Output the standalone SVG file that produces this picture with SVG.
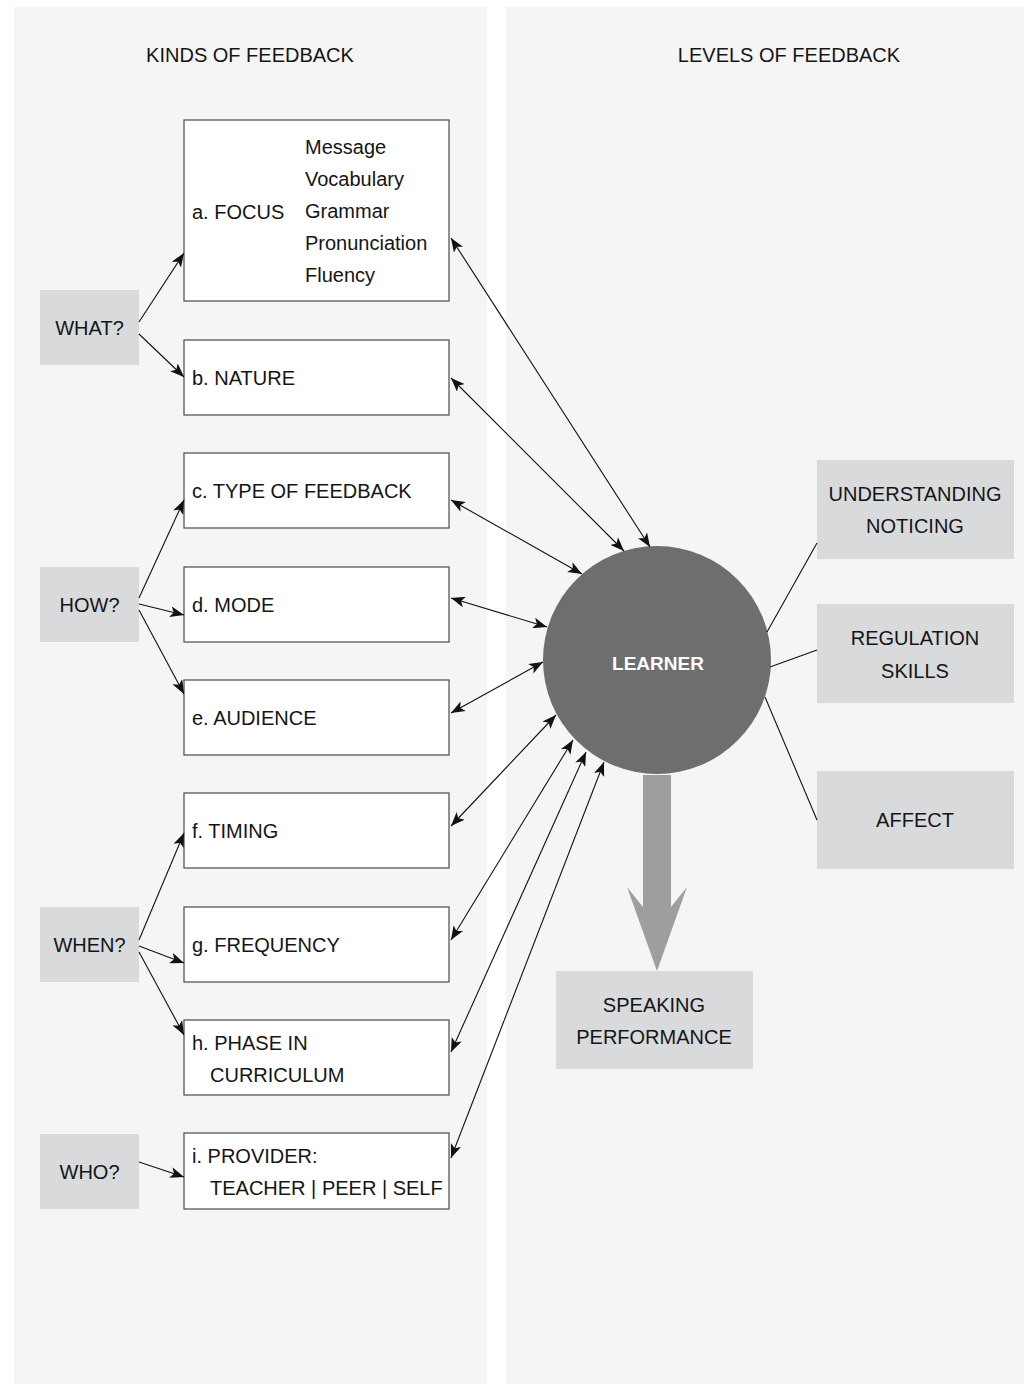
<svg xmlns="http://www.w3.org/2000/svg" width="1024" height="1384" viewBox="0 0 1024 1384">
<defs>
<style>
.panel{fill:#f5f5f5}
.box{fill:#ffffff;stroke:#4a4a4a;stroke-width:1.2}
.q{fill:#d9dadc}
.lvl{fill:#d9dadc}
text{font-family:"Liberation Sans",Arial,sans-serif;font-size:20px;fill:#151515}
.c{text-anchor:middle}
.ln{stroke:#111;stroke-width:1.1;fill:none}
.arr{stroke:#111;stroke-width:1.1;fill:none;marker-end:url(#ah)}
.bi{stroke:#111;stroke-width:1.1;fill:none;marker-end:url(#ah);marker-start:url(#ah)}
</style>
<marker id="ah" viewBox="0 0 14 11" refX="14" refY="5.5" markerWidth="14" markerHeight="11" markerUnits="userSpaceOnUse" orient="auto-start-reverse">
<path d="M0,0 L14,5.5 L0,11 L3.5,5.5 Z" fill="#111"/>
</marker>
</defs>
<rect width="1024" height="1384" fill="#ffffff"/>
<rect class="panel" x="14" y="7" width="473" height="1377"/>
<rect class="panel" x="506" y="7" width="518" height="1377"/>
<text class="c" x="250" y="62">KINDS OF FEEDBACK</text>
<text class="c" x="789" y="62">LEVELS OF FEEDBACK</text>

<g id="what"><rect class="q" x="40" y="290" width="99" height="75"/><text class="c" x="89.5" y="335">WHAT?</text></g>
<g id="how"><rect class="q" x="40" y="567" width="99" height="75"/><text class="c" x="89.5" y="612">HOW?</text></g>
<g id="when"><rect class="q" x="40" y="907" width="99" height="75"/><text class="c" x="89.5" y="952">WHEN?</text></g>
<g id="who"><rect class="q" x="40" y="1134" width="99" height="75"/><text class="c" x="89.5" y="1179">WHO?</text></g>

<g id="focus"><rect class="box" x="184" y="120" width="265" height="181"/>
<text x="192" y="219">a. FOCUS</text>
<text x="305" y="154">Message</text>
<text x="305" y="186">Vocabulary</text>
<text x="305" y="218">Grammar</text>
<text x="305" y="250">Pronunciation</text>
<text x="305" y="282">Fluency</text></g>
<g id="nature"><rect class="box" x="184" y="340" width="265" height="75"/><text x="192" y="385">b. NATURE</text></g>
<g id="type"><rect class="box" x="184" y="453" width="265" height="75"/><text x="192" y="498">c. TYPE OF FEEDBACK</text></g>
<g id="mode"><rect class="box" x="184" y="567" width="265" height="75"/><text x="192" y="612">d. MODE</text></g>
<g id="audience"><rect class="box" x="184" y="680" width="265" height="75"/><text x="192" y="725">e. AUDIENCE</text></g>
<g id="timing"><rect class="box" x="184" y="793" width="265" height="75"/><text x="192" y="838">f. TIMING</text></g>
<g id="frequency"><rect class="box" x="184" y="907" width="265" height="75"/><text x="192" y="952">g. FREQUENCY</text></g>
<g id="phase"><rect class="box" x="184" y="1020" width="265" height="75"/><text x="192" y="1050">h. PHASE IN</text><text x="210" y="1082">CURRICULUM</text></g>
<g id="provider"><rect class="box" x="184" y="1133" width="265" height="76"/><text x="192" y="1163">i. PROVIDER:</text><text x="210" y="1195">TEACHER | PEER | SELF</text></g>

<g id="learner"><circle cx="657" cy="660" r="114" fill="#6d6e70"/><text class="c" x="658" y="670" style="fill:#ffffff;font-weight:bold;font-size:19px">LEARNER</text></g>

<g id="understanding"><rect class="lvl" x="817" y="460" width="197" height="99"/><text class="c" x="915" y="501">UNDERSTANDING</text><text class="c" x="915" y="533">NOTICING</text></g>
<g id="regulation"><rect class="lvl" x="817" y="604" width="197" height="99"/><text class="c" x="915" y="645">REGULATION</text><text class="c" x="915" y="678">SKILLS</text></g>
<g id="affect"><rect class="lvl" x="817" y="771" width="197" height="98"/><text class="c" x="915" y="827">AFFECT</text></g>
<g id="speaking"><rect class="lvl" x="556" y="971" width="197" height="98"/><text class="c" x="654" y="1012">SPEAKING</text><text class="c" x="654" y="1044">PERFORMANCE</text></g>

<g id="connectors">
<path class="arr" d="M139,322 L184,253"/>
<path class="arr" d="M139,334 L184,377"/>
<path class="arr" d="M139,598 L184,500"/>
<path class="arr" d="M139,604 L184,615"/>
<path class="arr" d="M139,610 L184,694"/>
<path class="arr" d="M139,940 L184,833"/>
<path class="arr" d="M139,946 L184,963"/>
<path class="arr" d="M139,952 L184,1035"/>
<path class="arr" d="M139,1162 L184,1177"/>

<path class="bi" d="M451,238 L650,547"/>
<path class="bi" d="M451,378 L624,551"/>
<path class="bi" d="M451,500 L582,574"/>
<path class="bi" d="M451,598 L547,627"/>
<path class="bi" d="M451,713 L543,662"/>
<path class="bi" d="M451,826 L556,715"/>
<path class="bi" d="M451,940 L573,740"/>
<path class="bi" d="M451,1052 L586,752"/>
<path class="bi" d="M451,1158 L604,762"/>

<path class="ln" d="M767,632 L817,543"/>
<path class="ln" d="M770,667 L817,650"/>
<path class="ln" d="M765,697 L817,820"/>

<path d="M643,775 L671,775 L671,907 L687,887 L657,971 L627,887 L643,907 Z" fill="#9d9ea0"/>
</g>
</svg>
